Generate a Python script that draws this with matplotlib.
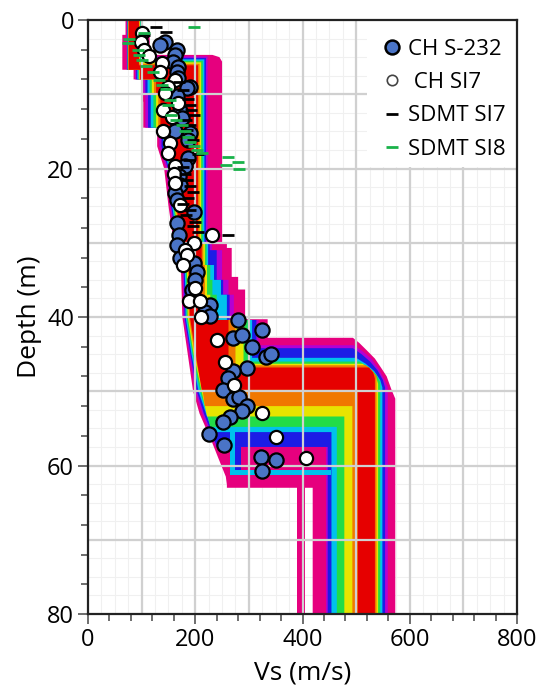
import numpy as np
import matplotlib
matplotlib.use("Agg")
import matplotlib.pyplot as plt
from matplotlib.lines import Line2D
from matplotlib.patches import Rectangle
from matplotlib.ticker import MultipleLocator

plt.rcParams["font.family"] = ["Open Sans", "DejaVu Sans"]

# Ensemble envelopes, outer (worst misfit) to inner (best misfit).
# Each side is a list of (depth m, Vs m/s) vertices, top to bottom.
mag_right = [(0, 102), (2, 102), (2, 115), (4.7, 115), (4.7, 232), (5.0, 245), (5.6, 250),
             (30, 250), (30, 259), (30.7, 259), (30.7, 268), (34.6, 268), (34.6, 280),
             (36.3, 280), (36.3, 293), (40.3, 293), (40.3, 335), (42.8, 335), (42.8, 494),
             (43.5, 506), (44.5, 520), (45.6, 535), (47, 548), (48, 557), (49.8, 566),
             (51, 573), (80, 573)]
mag_left = [(0, 70), (2, 70), (2, 64), (6.7, 64), (6.7, 85), (8, 85), (8, 100), (11, 100),
            (11, 103), (14.5, 103), (14.5, 129), (17, 129), (20, 142), (25, 150), (30, 160),
            (31, 172), (35, 174), (40, 176), (45, 186), (50, 196), (53, 208), (55, 220),
            (57, 232), (59, 243), (61.5, 257), (62.6, 259), (63.0, 259), (63.0, 419), (80, 419)]

pur_right = [(0, 101), (4.9, 101), (4.9, 223), (30, 223), (30, 231), (31, 231), (31, 250),
             (35, 250), (35, 262), (37, 262), (37, 272), (40.4, 272), (40.4, 318), (43.8, 318),
             (43.8, 495), (44.6, 512), (45.6, 528), (47, 542), (48.5, 553), (49.5, 559), (80, 559)]
pur_left = [(0, 72), (6.7, 72), (6.7, 88), (8, 88), (8, 103), (10, 103), (10, 107), (14.5, 107),
            (14.5, 133), (17, 133), (20, 146), (25, 153), (30, 163), (31, 175), (35, 177),
            (40, 178), (45, 189), (50, 200), (53, 213), (55, 224), (57, 236), (57.5, 238),
            (57.5, 444), (80, 444)]

blu_right = [(0, 100), (5.1, 100), (5.1, 220), (30, 220), (30, 227), (31, 227), (31, 240),
             (35, 240), (35, 252), (37, 252), (37, 264), (40.4, 264), (40.4, 314), (44.2, 314),
             (44.2, 494), (45, 510), (46, 526), (47.2, 540), (48.5, 550), (49.5, 554), (80, 554)]
blu_left = [(0, 73), (6.7, 73), (6.7, 90), (8, 90), (8, 107), (10, 107), (10, 112), (14.5, 112),
            (14.5, 137), (17, 137), (20, 149), (25, 155), (30, 165), (31, 177), (35, 179),
            (40, 180), (45, 191), (50, 203), (53, 216), (55, 227), (57, 238), (57.5, 240),
            (57.5, 447), (80, 447)]

cya_right = [(0, 99), (5.3, 99), (5.3, 217), (30, 217), (30, 224), (33, 224), (33, 235),
             (35, 235), (35, 248), (37, 248), (37, 259), (40.4, 259), (40.4, 306), (45.5, 306),
             (45.5, 500), (46.3, 518), (47.3, 534), (48.5, 545), (49.5, 549), (80, 549)]
cya_left = [(0, 74), (6.7, 74), (6.7, 92), (8, 92), (8, 111), (10, 111), (10, 117), (14.5, 117),
            (14.5, 140), (17, 140), (20, 151), (25, 157), (30, 167), (31, 179), (35, 181),
            (40, 182), (45, 193), (50, 206), (53, 220), (55, 230), (55.5, 232), (55.5, 454),
            (80, 454)]

grn_right = [(0, 98), (5.5, 98), (5.5, 214), (30, 214), (30, 221), (33, 221), (33, 228),
             (35, 228), (35, 232), (37, 232), (37, 240), (40.4, 240), (40.4, 298), (46.0, 298),
             (46.0, 506), (46.8, 524), (47.8, 538), (48.8, 545), (80, 545)]
grn_left = [(0, 74), (6.7, 74), (6.7, 94), (8, 94), (8, 115), (10, 115), (10, 122), (14.5, 122),
            (14.5, 143), (17, 143), (20, 153), (25, 159), (30, 169), (31, 181), (35, 183),
            (40, 184), (45, 195), (50, 209), (53, 222), (54.8, 228), (54.8, 464), (80, 464)]

yel_right = [(0, 97), (5.7, 97), (5.7, 211), (30, 211), (30, 218), (33, 218), (33, 222),
             (37, 222), (37, 228), (40.4, 228), (40.4, 290), (46.3, 290), (46.3, 512),
             (47, 527), (48, 537), (49, 541), (80, 541)]
yel_left = [(0, 75), (6.7, 75), (6.7, 95), (8, 95), (8, 119), (10, 119), (10, 127), (14.5, 127),
            (14.5, 146), (17, 146), (20, 155), (25, 161), (30, 171), (31, 183), (35, 185),
            (40, 186), (45, 197), (50, 212), (53.4, 222), (53.4, 478), (80, 478)]

ora_right = [(0, 96), (5.9, 96), (5.9, 208), (30, 208), (30, 215), (33, 215), (33, 218),
             (40.4, 218), (40.4, 275), (46.5, 275), (46.5, 518), (47.2, 530), (48, 538), (80, 538)]
ora_left = [(0, 75), (6.7, 75), (6.7, 96), (8, 96), (8, 123), (10, 123), (10, 131), (14.5, 131),
            (14.5, 149), (17, 149), (20, 157), (25, 163), (30, 173), (31, 185), (35, 187),
            (40, 188), (45, 199), (50, 214), (52, 218), (52, 493), (80, 493)]

red_right = [(0, 95), (6.1, 95), (6.1, 205), (30, 205), (30, 212), (40.4, 212), (40.4, 262),
             (46.8, 262), (46.8, 524), (47.5, 532), (48.3, 535), (80, 535)]
red_left = [(0, 76), (6.7, 76), (6.7, 97), (8, 97), (8, 127), (10, 127), (10, 135), (14.5, 135),
            (14.5, 152), (17, 152), (20, 159), (25, 165), (30, 175), (31, 187), (35, 189),
            (40, 190), (45, 201), (49.8, 212), (49.8, 503), (80, 503)]

# extra pieces of an envelope: (top depth, bottom depth, Vs left, Vs right)
mag_strips = [(62.6, 80, 389, 404)]
blu_strips = [(57.5, 60.6, 274, 286)]
cya_strips = [(55.5, 61.3, 265, 274), (60.6, 61.3, 265, 454)]

band_colors = ["#e6007e", "#b400d4", "#1c1ce6", "#00c2ec", "#22dc48", "#e8e400", "#f07800", "#e60000"]

# crosshole Vs, borehole S-232: (Vs, depth)
ch_s232 = [(144, 2.9), (135, 3.4), (166, 4.0), (163, 4.7), (159, 5.6), (168, 6.3), (166, 7.0),
           (168, 7.8), (190, 9.0), (184, 9.2), (166, 10.3), (172, 12.3), (175, 13.2), (163, 15.0),
           (190, 15.2), (187, 16.2), (187, 18.6), (181, 19.7), (169, 21.0), (172, 22.2),
           (163, 23.3), (166, 24.2), (197, 25.8), (166, 27.4), (169, 28.9), (166, 30.3),
           (172, 32.1), (197, 32.7), (203, 33.9), (200, 35.0), (194, 36.3), (228, 38.4),
           (218, 39.3), (228, 39.9), (280, 40.4), (324, 41.7), (271, 42.8), (287, 42.4),
           (305, 44.1), (332, 45.4), (342, 44.95), (296, 46.9), (271, 47.3), (262, 48.2),
           (252, 49.8), (271, 51.1), (282, 50.8), (296, 52.0), (287, 52.6), (264, 53.5),
           (252, 54.1), (226, 55.7), (254, 57.3), (322, 58.9), (350, 59.3), (324, 60.7)]

# crosshole Vs, borehole SI7
ch_si7 = [(101, 1.8), (98, 2.9), (104, 4.0), (113, 4.9), (138, 5.8), (135, 7.0), (163, 8.1),
          (150, 9.0), (144, 9.8), (168, 11.2), (140, 12.1), (156, 13.0), (140, 15.0),
          (153, 16.6), (150, 17.9), (163, 19.7), (160, 20.8), (163, 21.9), (172, 24.9),
          (231, 28.9), (197, 30.1), (181, 31.0), (184, 31.6), (178, 33.0), (200, 36.1),
          (189, 37.9), (209, 37.9), (211, 40.0), (240, 43.1), (256, 46.0), (273, 49.1),
          (325, 52.9), (350, 56.1), (406, 59.0)]

# seismic dilatometer Vs, SI7 and SI8
sdmt_si7 = [(127, 1.0), (145, 1.6), (104, 2.0), (170, 8.3), (178, 9.4), (186, 10.6), (190, 11.4),
            (193, 12.1), (197, 12.8), (182, 13.5), (190, 14.2), (184, 14.8), (196, 16.2),
            (192, 17.0), (205, 18.0), (188, 18.8), (178, 19.8), (181, 20.8), (185, 21.5),
            (190, 22.3), (195, 23.1), (187, 24.0), (178, 24.8), (190, 25.6), (182, 26.3),
            (200, 27.2), (196, 27.8), (205, 28.5), (261, 28.9)]
sdmt_si8 = [(198, 1.0), (104, 1.8), (77, 2.5), (75, 3.1), (93, 4.0), (95, 4.7), (100, 5.4),
            (108, 6.2), (122, 7.0), (132, 8.1), (138, 8.7), (145, 9.3), (153, 10.8), (150, 11.5),
            (155, 12.8), (165, 13.5), (175, 14.2), (180, 15.0), (186, 15.7), (190, 16.4),
            (197, 17.0), (204, 17.5), (212, 17.9), (262, 18.5), (280, 19.1), (257, 19.5),
            (282, 20.0)]


def fill_envelope(ax, left, right, color):
    l = np.array(left, dtype=float)
    r = np.array(right, dtype=float)
    vs = np.concatenate([r[:, 1], l[::-1, 1]])
    dep = np.concatenate([r[:, 0], l[::-1, 0]])
    ax.fill(vs, dep, color=color, lw=0, zorder=1)


def fill_strips(ax, strips, color):
    for top, bot, vl, vr in strips:
        ax.fill_betweenx([top, bot], vl, vr, color=color, lw=0, zorder=1)


fig = plt.figure(figsize=(5.4, 6.92), dpi=100)
ax = fig.add_axes([88 / 540, 78 / 692, 429 / 540, 594 / 692])

envelopes = [(mag_left, mag_right, mag_strips), (pur_left, pur_right, []),
             (blu_left, blu_right, blu_strips), (cya_left, cya_right, cya_strips),
             (grn_left, grn_right, []), (yel_left, yel_right, []),
             (ora_left, ora_right, []), (red_left, red_right, [])]
for (left, right, strips), col in zip(envelopes, band_colors):
    fill_envelope(ax, left, right, col)
    fill_strips(ax, strips, col)

# grid: light minor lines under the envelopes, major lines over them
for v in np.arange(25, 800, 25):
    ax.axvline(v, color="#f0f0f0", lw=0.8, zorder=0.5)
for d in np.arange(2.5, 80, 2.5):
    ax.axhline(d, color="#f0f0f0", lw=0.8, zorder=0.5)
for v in np.arange(100, 800, 100):
    ax.axvline(v, color="#d0d0d0", lw=1.6, zorder=1.5)
for d in np.arange(10, 80, 10):
    ax.axhline(d, color="#d0d0d0", lw=1.6, zorder=1.5)

a = np.array(ch_s232)
ax.scatter(a[:, 0], a[:, 1], s=105, c="#4a74c6", edgecolors="black", linewidths=1.6, zorder=3)
a = np.array(ch_si7)
ax.scatter(a[:, 0], a[:, 1], s=90, c="white", edgecolors="black", linewidths=1.6, zorder=3.5)
a = np.array(sdmt_si7)
ax.plot(a[:, 0], a[:, 1], ls="none", marker="_", ms=9, mew=2.0, color="black", zorder=4)
a = np.array(sdmt_si8)
ax.plot(a[:, 0], a[:, 1], ls="none", marker="_", ms=9, mew=2.0, color="#19b24a", zorder=4)

ax.set_xlim(0, 800)
ax.set_ylim(80, 0)
ax.xaxis.set_major_locator(MultipleLocator(200))
ax.xaxis.set_minor_locator(MultipleLocator(40))
ax.yaxis.set_major_locator(MultipleLocator(20))
ax.yaxis.set_minor_locator(MultipleLocator(4))
ax.tick_params(which="major", length=7, width=1.2, color="#555555", labelsize=17, pad=3)
ax.tick_params(which="minor", length=5, width=1.2, color="#555555")
for sp in ax.spines.values():
    sp.set_linewidth(1.6)
    sp.set_color("#222222")
    sp.set_zorder(6)

ax.set_xlabel("Vs (m/s)", fontsize=19, labelpad=6)
ax.set_ylabel("Depth (m)", fontsize=19, labelpad=4)

# legend sits on a white panel in the upper right corner
ax.add_patch(Rectangle((0.65, 0.752), 0.35, 0.248, transform=ax.transAxes,
                       facecolor="white", edgecolor="none", zorder=4.5))
handles = [
    Line2D([], [], ls="none", marker="o", ms=10, mfc="#4a74c6", mec="black", mew=1.8),
    Line2D([], [], ls="none", marker="o", ms=7.5, mfc="white", mec="#444444", mew=1.2),
    Line2D([], [], ls="none", marker="_", ms=8, mew=2.0, color="black"),
    Line2D([], [], ls="none", marker="_", ms=8, mew=2.0, color="#19b24a"),
]
leg = ax.legend(handles, ["CH S-232", " CH SI7", "SDMT SI7", "SDMT SI8"],
                loc="upper left", bbox_to_anchor=(0.65, 1.0), frameon=False,
                fontsize=16, borderpad=0.85, labelspacing=0.55,
                handlelength=0.6, handletextpad=0.4, borderaxespad=0)
leg.set_zorder(5)

fig.savefig("out.png", dpi=100)
